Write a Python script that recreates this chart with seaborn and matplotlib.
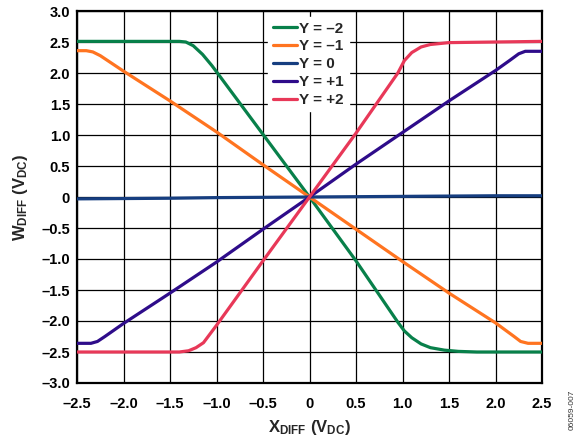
import numpy as np
import pandas as pd
import matplotlib
matplotlib.use("Agg")
import matplotlib.pyplot as plt
import seaborn as sns

# ---- data ----
labels = ["Y = \u20132", "Y = \u20131", "Y = 0", "Y = +1", "Y = +2"]
colors = ["#08804a", "#ff7420", "#163e80", "#2e0c8a", "#e83858"]

x_m2 = [-2.5, -1.4, -1.33, -1.25, -1.15, -1.05, -1.0, -0.5, 0, 0.5, 0.95, 1.02, 1.1, 1.2, 1.3, 1.45, 1.6, 1.8, 2.5]
y_m2 = [2.51, 2.51, 2.5, 2.44, 2.3, 2.12, 2.02, 1.01, 0, -1.03, -2.02, -2.16, -2.27, -2.37, -2.43, -2.47, -2.49, -2.5, -2.5]

x_m1 = [-2.5, -2.4, -2.33, -2.25, -2.0, -1.5, -1.0, -0.5, 0, 0.5, 1.0, 1.5, 2.0, 2.2, 2.27, 2.35, 2.5]
y_m1 = [2.36, 2.36, 2.34, 2.28, 2.03, 1.55, 1.05, 0.52, 0, -0.52, -1.04, -1.55, -2.03, -2.25, -2.33, -2.36, -2.36]

x_0 = [-2.5, -1.5, -1.0, 0, 1.0, 2.0, 2.5]
y_0 = [-0.03, -0.02, -0.01, 0, 0.01, 0.02, 0.02]

x_p1 = [-2.5, -2.35, -2.28, -2.2, -2.0, -1.5, -1.0, -0.5, 0, 0.5, 1.0, 1.5, 2.0, 2.15, 2.25, 2.32, 2.5]
y_p1 = [-2.36, -2.36, -2.33, -2.25, -2.04, -1.55, -1.05, -0.52, 0, 0.53, 1.04, 1.55, 2.04, 2.2, 2.31, 2.35, 2.35]

x_p2 = [-2.5, -1.4, -1.3, -1.22, -1.14, -1.0, -0.5, 0, 0.5, 0.95, 1.02, 1.1, 1.2, 1.3, 1.5, 2.5]
y_p2 = [-2.5, -2.5, -2.48, -2.43, -2.35, -2.07, -1.03, 0, 1.03, 2.0, 2.2, 2.33, 2.42, 2.46, 2.49, 2.51]

xs = [x_m2, x_m1, x_0, x_p1, x_p2]
ys = [y_m2, y_m1, y_0, y_p1, y_p2]

frames = []
for lab, xv, yv in zip(labels, xs, ys):
    frames.append(pd.DataFrame({"x": xv, "y": yv, "series": lab}))
df = pd.concat(frames, ignore_index=True)

# ---- style ----
sns.set_theme(style="white")
plt.rcParams["font.family"] = ["Liberation Sans", "DejaVu Sans"]
plt.rcParams["font.weight"] = "bold"
plt.rcParams["mathtext.fontset"] = "custom"
plt.rcParams["mathtext.rm"] = "Liberation Sans:bold"
plt.rcParams["mathtext.it"] = "Liberation Sans:bold"
plt.rcParams["mathtext.bf"] = "Liberation Sans:bold"

fig = plt.figure(figsize=(5.81, 4.44), dpi=100)
ax = fig.add_axes([77/581, 1 - 383/444, (542 - 77)/581, (383 - 11)/444])

sns.lineplot(data=df, x="x", y="y", hue="series", hue_order=labels,
             palette=colors, linewidth=2.3, sort=False, estimator=None,
             ax=ax, zorder=3)

ax.set_xlim(-2.5, 2.5)
ax.set_ylim(-3.0, 3.0)
xt = np.arange(-2.5, 2.51, 0.5)
yt = np.arange(-3.0, 3.01, 0.5)
ax.set_xticks(xt)
ax.set_yticks(yt)

def fmt(v):
    if abs(v) < 1e-9:
        return "0"
    s = f"{abs(v):.1f}"
    return ("\u2013" + s) if v < 0 else s

ax.set_xticklabels([fmt(v) for v in xt], fontsize=10.5, fontweight="bold")
ax.set_yticklabels([fmt(v) for v in yt], fontsize=10.5, fontweight="bold")
ax.tick_params(axis="x", length=0, pad=10, colors="black")
ax.tick_params(axis="y", length=0, pad=5, colors="black")

ax.grid(True, color="black", linewidth=0.9, zorder=1)
ax.set_axisbelow(True)
for sp in ax.spines.values():
    sp.set_color("black")
    sp.set_linewidth(1.6)

ax.set_xlabel(r"X$_{\mathregular{DIFF}}$ (V$_{\mathregular{DC}}$)", fontsize=12, fontweight="bold", labelpad=5)
ax.set_ylabel(r"W$_{\mathregular{DIFF}}$ (V$_{\mathregular{DC}}$)", fontsize=12, fontweight="bold", labelpad=8)

leg = ax.legend(loc="upper left", bbox_to_anchor=(268/581, 1 - 17/444),
                bbox_transform=fig.transFigure, frameon=True, fancybox=False,
                edgecolor="white", facecolor="white", framealpha=1,
                fontsize=11, handlelength=1.6, handletextpad=0.15,
                labelspacing=0.25, borderpad=0.3, borderaxespad=0)
for t in leg.get_texts():
    t.set_fontweight("bold")
for h in leg.get_lines():
    h.set_linewidth(2.3)
leg.set_zorder(5)

fig.text(572/581, 1 - 410/444, "06059-007", rotation=90, fontsize=6,
         fontweight="normal", color="#333333", ha="center", va="center")

fig.savefig("out.png", dpi=100)
